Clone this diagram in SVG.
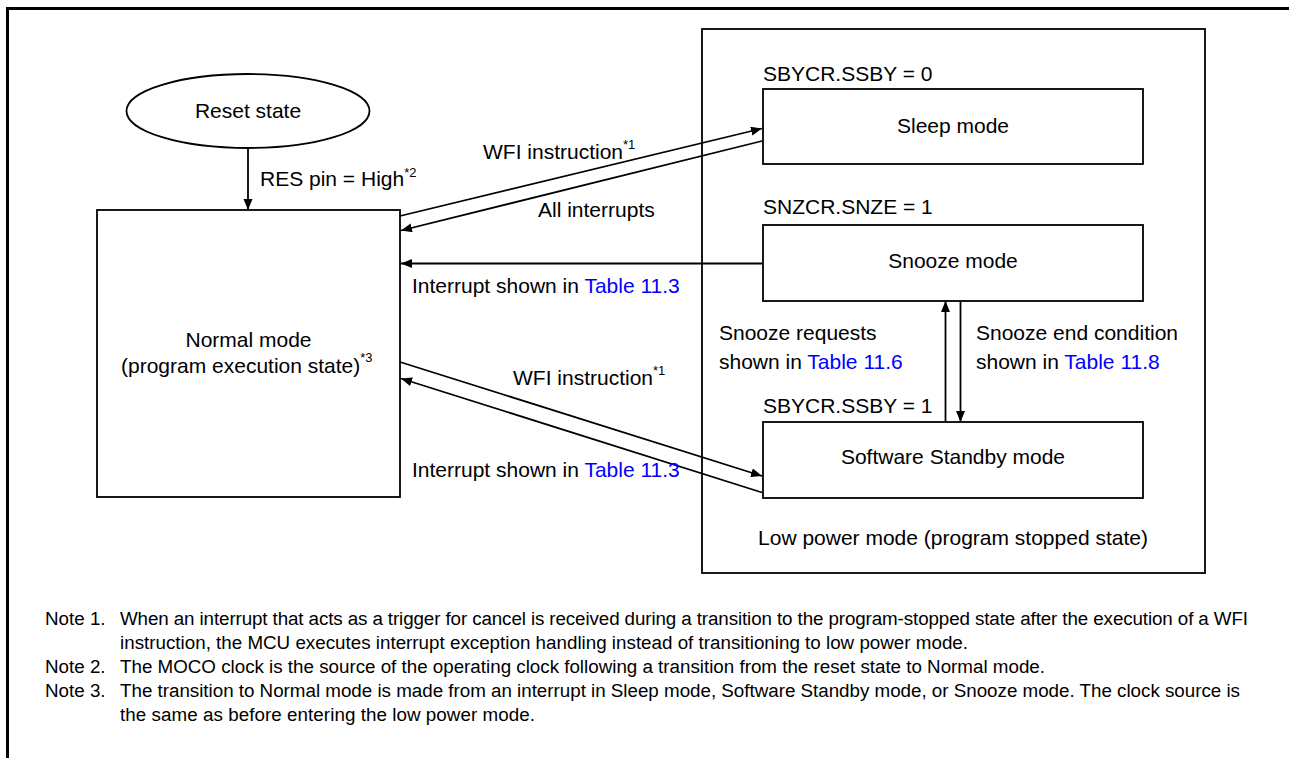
<svg xmlns="http://www.w3.org/2000/svg" width="1289" height="758" viewBox="0 0 1289 758">
<style>
text{font-family:"Liberation Sans",Arial,sans-serif;fill:#000}
.t{font-size:21px}
.c{text-anchor:middle}
.sup{font-size:13px}
.lnk{fill:#0000FF}
.n{font-size:18.8px}
.box{fill:#fff;stroke:#000;stroke-width:1.8}
.ln{fill:none;stroke:#000;stroke-width:1.8}
</style>
<defs>
<marker id="ah" markerUnits="userSpaceOnUse" markerWidth="12" markerHeight="10" refX="11" refY="4.5" orient="auto">
<path d="M0,0 L11,4.5 L0,9 z" fill="#000"/>
</marker>
</defs>
<rect width="1289" height="758" fill="#fff"/>
<path d="M7.5,758 V8.5 H1289" fill="none" stroke="#000" stroke-width="3"/>

<g id="lowpower">
<rect class="box" x="702" y="29" width="503" height="544"/>
<text class="t c" x="953" y="545">Low power mode (program stopped state)</text>
</g>

<g id="reset">
<ellipse class="box" cx="248" cy="111" rx="121.5" ry="37"/>
<text class="t c" x="248" y="118">Reset state</text>
</g>

<g id="normal">
<rect class="box" x="97" y="210" width="303" height="287"/>
<text class="t c" x="248.5" y="347">Normal mode</text>
<text class="t" x="121" y="373">(program execution state)<tspan class="sup" dy="-11">*3</tspan></text>
</g>

<g id="sleep">
<text class="t" x="763" y="81">SBYCR.SSBY = 0</text>
<rect class="box" x="763" y="89" width="380" height="75"/>
<text class="t c" x="953" y="133">Sleep mode</text>
</g>

<g id="snooze">
<text class="t" x="763" y="214">SNZCR.SNZE = 1</text>
<rect class="box" x="763" y="225" width="380" height="76"/>
<text class="t c" x="953" y="268">Snooze mode</text>
</g>

<g id="standby">
<text class="t" x="763" y="413">SBYCR.SSBY = 1</text>
<rect class="box" x="763" y="422" width="380" height="76"/>
<text class="t c" x="953" y="464">Software Standby mode</text>
</g>

<g id="connectors">
<line class="ln" x1="248" y1="148" x2="248" y2="210" marker-end="url(#ah)"/>
<line class="ln" x1="400" y1="216" x2="762" y2="128.5" marker-end="url(#ah)"/>
<line class="ln" x1="762" y1="141" x2="401" y2="230.5" marker-end="url(#ah)"/>
<line class="ln" x1="762" y1="263.5" x2="401" y2="263.5" marker-end="url(#ah)"/>
<line class="ln" x1="400" y1="362" x2="762" y2="476" marker-end="url(#ah)"/>
<line class="ln" x1="762" y1="492.5" x2="401" y2="378.5" marker-end="url(#ah)"/>
<line class="ln" x1="945.5" y1="422" x2="945.5" y2="301" marker-end="url(#ah)"/>
<line class="ln" x1="960.5" y1="301" x2="960.5" y2="422" marker-end="url(#ah)"/>
</g>

<g id="labels">
<text class="t" x="260" y="186">RES pin = High<tspan class="sup" dy="-9">*2</tspan></text>
<text class="t" x="483" y="159">WFI instruction<tspan class="sup" dy="-10">*1</tspan></text>
<text class="t" x="538" y="217">All interrupts</text>
<text class="t" x="412" y="293">Interrupt shown in <tspan class="lnk">Table 11.3</tspan></text>
<text class="t" x="513" y="385">WFI instruction<tspan class="sup" dy="-10">*1</tspan></text>
<text class="t" x="412" y="477">Interrupt shown in <tspan class="lnk">Table 11.3</tspan></text>
<text class="t" x="719" y="340">Snooze requests</text>
<text class="t" x="719" y="369">shown in <tspan class="lnk">Table 11.6</tspan></text>
<text class="t" x="976" y="340">Snooze end condition</text>
<text class="t" x="976" y="369">shown in <tspan class="lnk">Table 11.8</tspan></text>
</g>

<g id="notes">
<text class="n" x="45" y="625">Note 1.</text>
<text class="n" x="120" y="625" textLength="1128">When an interrupt that acts as a trigger for cancel is received during a transition to the program-stopped state after the execution of a WFI</text>
<text class="n" x="120" y="649" textLength="848">instruction, the MCU executes interrupt exception handling instead of transitioning to low power mode.</text>
<text class="n" x="45" y="673">Note 2.</text>
<text class="n" x="120" y="673" textLength="925">The MOCO clock is the source of the operating clock following a transition from the reset state to Normal mode.</text>
<text class="n" x="45" y="697">Note 3.</text>
<text class="n" x="120" y="697" textLength="1120">The transition to Normal mode is made from an interrupt in Sleep mode, Software Standby mode, or Snooze mode. The clock source is</text>
<text class="n" x="120" y="721" textLength="415">the same as before entering the low power mode.</text>
</g>
</svg>
